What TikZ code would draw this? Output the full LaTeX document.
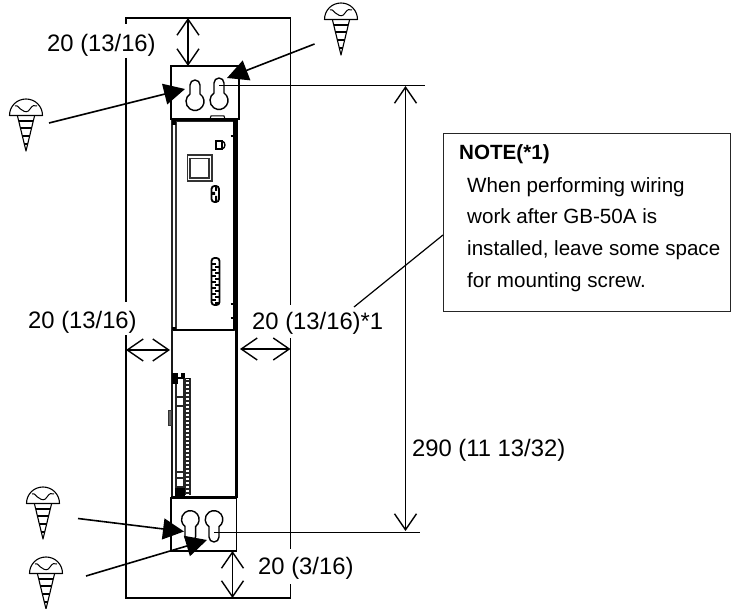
\documentclass[tikz,border=0pt]{standalone}
\usepackage{fontspec}
\setmainfont{Liberation Sans}
\usetikzlibrary{arrows.meta}
\tikzset{
  frameline/.style={line width=1.4pt,black},
  plate/.style={line width=1.7pt,black},
  dimline/.style={line width=1.4pt,black,{Straight Barb[length=16pt,width=22pt,line width=1.4pt]}-{Straight Barb[length=16pt,width=22pt,line width=1.4pt]}},
  pointer/.style={line width=1.6pt,black,-{Triangle[length=21pt,width=21pt]}},
  extline/.style={line width=1.4pt,black},
  keyhole/.style={line width=1.4pt,black,line join=round},
  dimtext/.style={anchor=base west,inner sep=0pt,font=\fontsize{23.8}{26}\selectfont},
  notetext/.style={anchor=base west,inner sep=0pt,font=\fontsize{20.6}{24}\selectfont},
  devline/.style={line width=1.1pt,black!85},
  screwpic/.pic={
    \draw[line width=1.1pt,line join=round] (-16.5,16.5) .. controls (-16.5,7) and (-9,0) .. (0,0) .. controls (9,0) and (16.5,7) .. (16.5,16.5) -- cycle;
    \draw[line width=1pt] (-11,7) .. controls (-8,5.5) and (-7,10) .. (-4,11) .. controls (-1,13.5) and (2,13.5) .. (4,10) .. controls (6,6.5) and (9,5.5) .. (11,7);
    \draw[line width=1.1pt,line join=round] (-8.5,17) -- (0,52) -- (8.5,17);
    \draw[line width=1.3pt] (-7.3,22) -- (7.3,22) (-5.6,29) -- (5.6,29) (-3.6,37) -- (3.6,37) (-1.7,45) -- (1.7,45);
  },
}
\begin{document}
\begin{tikzpicture}[x=1pt,y=-1pt]
\useasboundingbox (0,0) rectangle (749,609);
% coordinates
\coordinate (ftop) at (188,18);
\coordinate (ptop) at (188,66);
\coordinate (fl) at (126,350);
\coordinate (dl) at (170,350);
\coordinate (dr) at (240,349);
\coordinate (fr) at (290.5,349);
\coordinate (pbot) at (232.5,551);
\coordinate (fbot) at (232.5,598);
\coordinate (ht) at (405.5,86);
\coordinate (hb) at (405.5,531);
\coordinate (et1) at (219,85.5);
\coordinate (et2) at (425,85.5);
\coordinate (eb1) at (214,532.5);
\coordinate (eb2) at (420,532.5);
\coordinate (a1s) at (49,123); \coordinate (a1e) at (185,89);
\coordinate (a2s) at (314.5,44); \coordinate (a2e) at (227,78);
\coordinate (a3s) at (78,518.5); \coordinate (a3e) at (184,531.5);
\coordinate (a4s) at (86,576); \coordinate (a4e) at (207,540);
\coordinate (lead1) at (443,235); \coordinate (lead2) at (354,307);
% frame with gaps for labels
\draw[frameline] (126,24) -- (126,18) -- (290.5,18) -- (290.5,305);
\draw[frameline] (126,58) -- (126,302);
\draw[frameline] (126,335) -- (126,598) -- (290.5,598) -- (290.5,584);
\draw[frameline] (290.5,338) -- (290.5,549);
% device body, upper part
\draw[devline,fill=white] (172,121) rectangle (235,330);
\draw[line width=1.3pt,black!80] (176,121) -- (176,330);
\draw[line width=1.6pt] (172,120.5) -- (237,120.5);
\fill (172,119) rectangle (176,125);
\fill (233,119) rectangle (238,330);
\fill (171.5,327) rectangle (175.5,331);
\draw[line width=1.1pt] (172,330) -- (234,330);
\draw[line width=1.2pt] (230.5,136) -- (233,136) (230.5,304) -- (233,304) (230.5,318) -- (233,318);
% top tab
\draw[line width=1pt,fill=white] (210,119) -- (211,116) -- (224,116) -- (225,119);
% connector D
\draw[line width=1.3pt] (216,141) rectangle (222,149) ;
\draw[line width=1.3pt] (222,141) .. controls (226,142) and (226,148) .. (222,149);
% display
\draw[line width=1.3pt,black!80] (187.5,155) rectangle (212,181);
\draw[line width=1.3pt,black!80] (190,158.5) rectangle (209,178);
% small pill
\draw[line width=1.8pt,rounded corners=3pt] (211.5,186) rectangle (219,202);
\fill (211.5,192) rectangle (215,195) (215,186) rectangle (217,191) (215,196) rectangle (217,201);
% long pill
\draw[line width=1.8pt,rounded corners=3pt] (211.5,258) rectangle (219.5,305);
\foreach \yy in {263,269,275,281,287,293,299}{
  \fill (212,\yy) rectangle (216,\yy+2.4);
  \fill (215,\yy+3) rectangle (219,\yy+5);
}
% lower part
\draw[line width=1.3pt,black!90] (172,330) -- (172,496);
\fill (235,330) rectangle (238,498);
\draw[devline] (176,383) -- (176,496);
\draw[devline] (184,378) -- (184,496);
\fill (172,373) rectangle (178,384);
\fill (178,377) rectangle (185,379);
\fill (180.5,373) rectangle (185,378);
\draw[devline] (185,378) -- (185,495) (190,378) -- (190,495);
\draw[line width=1pt] (186,378) -- (190,378);
\foreach \yy in {381,385,...,493}{\draw[line width=1.8pt,black!85] (185,\yy) -- (190,\yy);}
\draw[devline] (176,397) -- (184,397) (176,406) -- (184,406) (176,472) -- (184,472) (176,478) -- (184,478) (176,487) -- (184,487);
\draw[line width=1pt,black!80,fill=black!60] (168.5,410) rectangle (171,425);
\fill (175,488) rectangle (185,496);
\fill (171,495.8) rectangle (238,498.4);
% plates
\draw[plate] (171,66) rectangle (239,119);
\draw[plate] (171,498) rectangle (236.5,551);
% keyholes
\draw[keyhole] (190,85) arc[start angle=180,end angle=360,radius=5] -- (200,94) arc[start angle=-56.25,end angle=236.25,radius=9] -- cycle;
\draw[keyhole] (214,83) arc[start angle=180,end angle=360,radius=5] -- (224,93) arc[start angle=-56.25,end angle=236.25,radius=9] -- cycle;
\draw[keyhole] (185,536.7) arc[start angle=180,end angle=0,radius=5.3] -- (195.6,526.5) arc[start angle=53,end angle=-233,radius=8.8] -- cycle;
\draw[keyhole] (209,537) arc[start angle=180,end angle=0,radius=5] -- (219,526.7) arc[start angle=55.4,end angle=-235.4,radius=8.8] -- cycle;
% extension and dimension lines
\draw[extline] (et1) -- (et2);
\draw[extline] (eb1) -- (eb2);
\draw[dimline] (ftop) -- (ptop);
\draw[dimline] (fl) -- (dl);
\draw[dimline] (dr) -- (fr);
\draw[dimline] (pbot) -- (fbot);
\draw[dimline] (ht) -- (hb);
% pointers
\draw[pointer] (a1s) -- (a1e);
\draw[pointer] (a2s) -- (a2e);
\draw[pointer] (a3s) -- (a3e);
\draw[pointer] (a4s) -- (a4e);
% screws
\pic at (26,99) {screwpic};
\pic at (341,3) {screwpic};
\pic at (43,487) {screwpic};
\pic at (46,557) {screwpic};
% labels
\node[dimtext] (t1) at (47,52) {20 (13/16)};
\node[dimtext] (t2) at (28,328) {20 (13/16)};
\node[dimtext] (t3) at (252,330) {20 (13/16)*1};
\node[dimtext] (t4) at (258,574) {20 (3/16)};
\node[dimtext] (t5) at (412,456) {290 (11 13/32)};
% note
\node[draw=black!85,line width=1.2pt,minimum width=287pt,minimum height=178pt,anchor=north west,inner sep=0pt] (notebox) at (443,132.7) {};
\draw[line width=1.2pt] (lead1) -- (lead2);
\node[notetext,font=\fontsize{20.6}{24}\selectfont\bfseries] (n0) at (459,160) {NOTE(*1)};
\node[notetext] (n1) at (467,193) {When performing wiring};
\node[notetext] (n2) at (467,224) {work after GB-50A is};
\node[notetext] (n3) at (467,256) {installed, leave some space};
\node[notetext] (n4) at (467,288) {for mounting screw.};
\end{tikzpicture}
\end{document}
